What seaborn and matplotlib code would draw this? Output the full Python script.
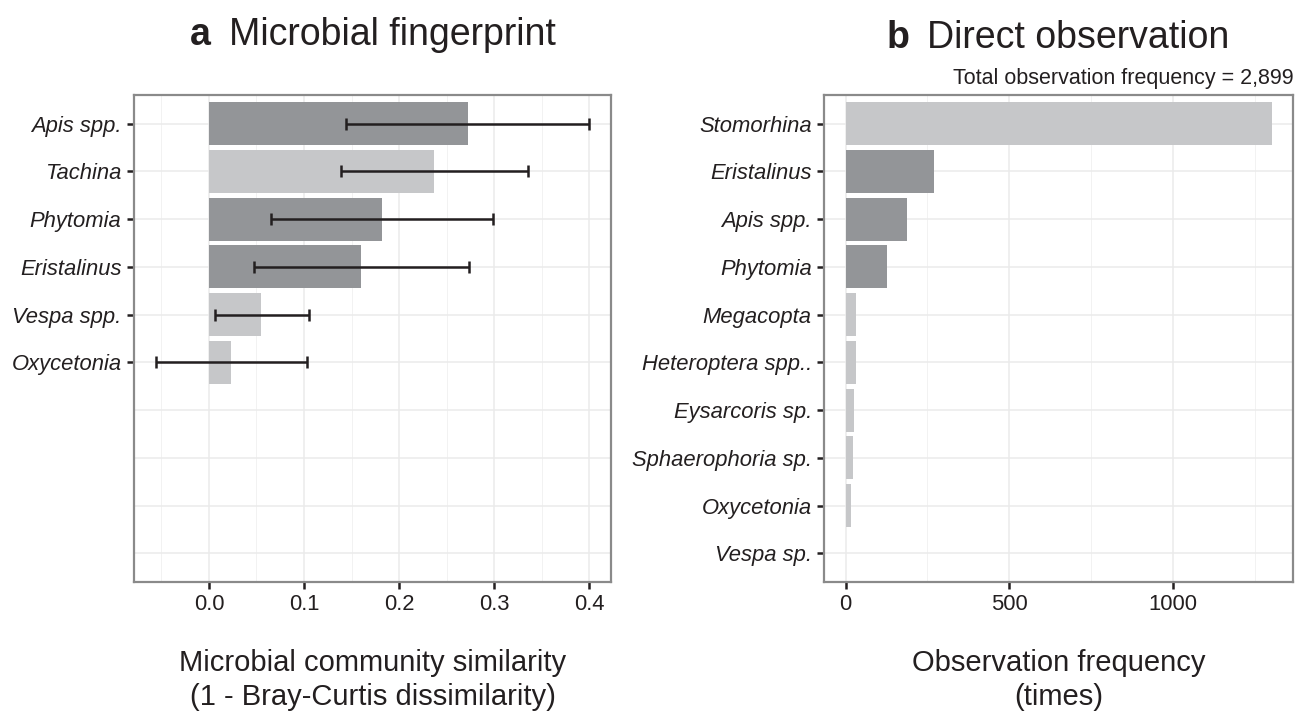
import numpy as np
import pandas as pd
import seaborn as sns
import matplotlib.pyplot as plt
from matplotlib.ticker import MultipleLocator

# panel a data
taxa_a = ['Apis spp.', 'Tachina', 'Phytomia', 'Eristalinus', 'Vespa spp.', 'Oxycetonia']
sim_a = [0.272, 0.237, 0.182, 0.160, 0.055, 0.023]
low_a = [0.144, 0.139, 0.065, 0.047, 0.006, -0.056]
high_a = [0.400, 0.336, 0.299, 0.274, 0.105, 0.103]
group_a = ['dark', 'light', 'dark', 'dark', 'light', 'light']

# panel b data
taxa_b = ['Stomorhina', 'Eristalinus', 'Apis spp.', 'Phytomia', 'Megacopta',
          'Heteroptera spp..', 'Eysarcoris sp.', 'Sphaerophoria sp.', 'Oxycetonia', 'Vespa sp.']
freq_b = [1303, 270, 187, 128, 33, 33, 26, 24, 17, 1]
group_b = ['light', 'dark', 'dark', 'dark', 'light', 'light', 'light', 'light', 'light', 'light']
total_obs = '2,899'

# colors
dark = '#939598'
light = '#c6c7c9'
palette = {'dark': dark, 'light': light}

sns.set_style('white')
plt.rcParams['font.family'] = ['Liberation Sans', 'DejaVu Sans']

fig = plt.figure(figsize=(12.96, 7.12), dpi=100)
ax1 = fig.add_axes([0.1034, 0.1826, 0.368, 0.684])
ax2 = fig.add_axes([0.636, 0.1826, 0.362, 0.684])

df_a = pd.DataFrame({'taxon': taxa_a, 'sim': sim_a, 'group': group_a})
df_b = pd.DataFrame({'taxon': taxa_b, 'freq': freq_b, 'group': group_b})

sns.barplot(data=df_a, x='sim', y='taxon', hue='group', palette=palette, order=taxa_a,
            dodge=False, width=0.9, orient='h', errorbar=None, legend=False, ax=ax1,
            saturation=1, zorder=2, linewidth=0)
sns.barplot(data=df_b, x='freq', y='taxon', hue='group', palette=palette, order=taxa_b,
            dodge=False, width=0.9, orient='h', errorbar=None, legend=False, ax=ax2,
            saturation=1, zorder=2, linewidth=0)

# error bars on panel a
sim = np.array(sim_a)
xerr = [sim - np.array(low_a), np.array(high_a) - sim]
ax1.errorbar(sim, np.arange(len(taxa_a)), xerr=xerr, fmt='none', ecolor='#231f20',
             elinewidth=1.8, capsize=4.5, capthick=1.8, zorder=3)

# axis ranges, ggplot-like
lo, hi = min(low_a), max(high_a)
ax1.set_xlim(lo - 0.05 * (hi - lo), hi + 0.05 * (hi - lo))
ax1.set_ylim(9.6, -0.6)
ax2.set_xlim(-0.05 * max(freq_b), 1.05 * max(freq_b))
ax2.set_ylim(9.6, -0.6)

ax1.xaxis.set_major_locator(MultipleLocator(0.1))
ax1.xaxis.set_minor_locator(MultipleLocator(0.05))
ax1.xaxis.set_major_formatter(plt.FuncFormatter(lambda v, p: f'{v:.1f}'))
ax1.set_yticks(range(len(taxa_a)))
ax1.set_yticks(range(10), minor=True)
ax2.xaxis.set_major_locator(MultipleLocator(500))
ax2.xaxis.set_minor_locator(MultipleLocator(250))

for ax in [ax1, ax2]:
    ax.set_axisbelow(True)
    ax.grid(which='major', color='#ebebeb', lw=1.1)
    ax.grid(which='minor', color='#f2f2f2', lw=0.7)
    ax.grid(which='minor', axis='y', color='#ebebeb', lw=1.1)
    for s in ax.spines.values():
        s.set_visible(True)
        s.set_color('#8a8a8a')
        s.set_linewidth(1.6)
    ax.tick_params(axis='both', which='major', length=5, width=1.8, color='#231f20',
                   labelsize=15.8, labelcolor='#231f20', pad=4, left=True, bottom=True)
    ax.tick_params(axis='both', which='minor', length=0)
    ax.set_ylabel('')
    for lab in ax.get_yticklabels():
        lab.set_fontstyle('italic')

ax1.set_xlabel('Microbial community similarity\n(1 - Bray-Curtis dissimilarity)',
               fontsize=21, labelpad=24, color='#231f20', linespacing=1.3)
ax2.set_xlabel('Observation frequency\n(times)', fontsize=21, labelpad=24,
               color='#231f20', linespacing=1.3)

ax2.text(1.0, 1.012, 'Total observation frequency = ' + total_obs, transform=ax2.transAxes,
         ha='right', va='bottom', fontsize=15.5, color='#231f20')

# panel titles
fig.text(0.1466, 0.951, 'a', fontsize=27, fontweight='bold', va='center', color='#231f20')
fig.text(0.1767, 0.951, 'Microbial fingerprint', fontsize=27, va='center', color='#231f20')
fig.text(0.684, 0.947, 'b', fontsize=27, fontweight='bold', va='center', color='#231f20')
fig.text(0.715, 0.947, 'Direct observation', fontsize=27, va='center', color='#231f20')

fig.savefig('out.png', dpi=100)
